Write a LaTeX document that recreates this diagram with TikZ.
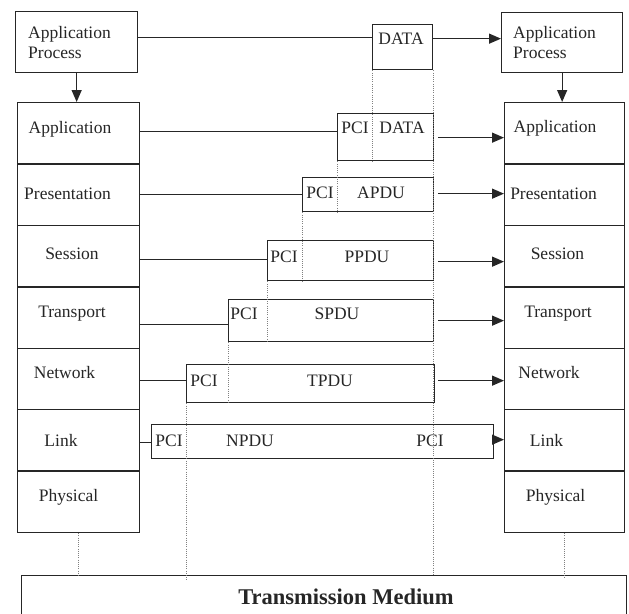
\documentclass[tikz,border=0pt]{standalone}
\usepackage{fontspec}
\setmainfont{Liberation Serif}
\usetikzlibrary{arrows.meta}

\begin{document}
\begin{tikzpicture}[x=1pt,y=-1pt,
  ink/.style={draw=black!85, line width=1.3pt},
  layer/.style={ink, rectangle, inner sep=0pt, minimum width=122pt, minimum height=61.4pt, anchor=north west},
  rlayer/.style={layer, minimum width=120pt},
  pdu/.style={ink, rectangle, inner sep=0pt, anchor=north west},
  txt/.style={inner sep=0pt, font=\fontsize{17.5}{20}\selectfont, text=black!85},
  link/.style={draw=black!85, line width=1.3pt},
  flow/.style={link, -{Triangle[length=12pt,width=10pt]}},
  guide/.style={draw=black!50, line width=0.6pt, dash pattern=on 1pt off 1.2pt},
]
\useasboundingbox (0,0) rectangle (629,613);

% application processes
\node[pdu, minimum width=122pt, minimum height=61pt] (lproc) at (15,11) {};
\node[pdu, minimum width=121pt, minimum height=60pt] (rproc) at (501,12) {};
\node[txt, align=left, anchor=west] (lprocT) at (28,43) {Application\\Process};
\node[txt, align=left, anchor=west] (rprocT) at (513,43) {Application\\Process};

% the two seven-layer stacks
\foreach \n [count=\i from 0] in {app,pres,sess,trans,net,link,phys} {
  \node[layer] (l\n) at (17,102+61.4*\i) {};
  \node[rlayer] (r\n) at (504,102+61.4*\i) {};
}

% layer names
\node[txt] (lappT)   at (70,129)   {Application};
\node[txt] (lpresT)  at (67.5,194) {Presentation};
\node[txt] (lsessT)  at (72,254)   {Session};
\node[txt] (ltransT) at (72,314)   {Transport};
\node[txt] (lnetT)   at (64.5,373) {Network};
\node[txt] (llinkT)  at (61,440)   {Link};
\node[txt] (lphysT)  at (68.5,497) {Physical};

\node[txt] (rappT)   at (555,128)   {Application};
\node[txt] (rpresT)  at (553.5,194) {Presentation};
\node[txt] (rsessT)  at (557.5,254) {Session};
\node[txt] (rtransT) at (558,314)   {Transport};
\node[txt] (rnetT)   at (549,373)   {Network};
\node[txt] (rlinkT)  at (546.5,440) {Link};
\node[txt] (rphysT)  at (555.5,497) {Physical};

% protocol data units
\node[pdu, minimum width=60pt,  minimum height=45pt] (data)    at (372,24)  {};
\node[pdu, minimum width=96pt,  minimum height=47pt] (pcidata) at (337,113) {};
\node[pdu, minimum width=131pt, minimum height=34pt] (apdu)    at (302,177) {};
\node[pdu, minimum width=166pt, minimum height=40pt] (ppdu)    at (267,240) {};
\node[pdu, minimum width=205pt, minimum height=42pt] (spdu)    at (228,299) {};
\node[pdu, minimum width=248pt, minimum height=38pt] (tpdu)    at (186,364) {};
\node[pdu, minimum width=342pt, minimum height=34pt] (npdu)    at (151,424) {};

\node[txt] (dataT)   at (401,39)  {DATA};
\node[txt] (pci1)    at (355,128) {PCI};
\node[txt] (data2T)  at (402,128) {DATA};
\node[txt] (pci2)    at (320,193) {PCI};
\node[txt] (apduT)   at (381,193) {APDU};
\node[txt] (pci3)    at (284,257) {PCI};
\node[txt] (ppduT)   at (367,257) {PPDU};
\node[txt] (pci4)    at (244,314) {PCI};
\node[txt] (spduT)   at (337,314) {SPDU};
\node[txt] (pci5)    at (204,381) {PCI};
\node[txt] (tpduT)   at (330,381) {TPDU};
\node[txt] (pci6)    at (169,441) {PCI};
\node[txt] (npduT)   at (250,441) {NPDU};
\node[txt] (pci7)    at (430,441) {PCI};

% transmission medium
\node[pdu, minimum width=605pt, minimum height=60pt] (medium) at (21,575) {};
\node[inner sep=0pt, font=\bfseries\fontsize{22.5}{26}\selectfont, text=black!85] (mediumT) at (346,597) {Transmission Medium};

% encapsulation guides
\draw[guide] (data.south west) -- (data.south west |- pcidata.south);
\draw[guide] (pcidata.south west) -- (pcidata.south west |- apdu.south);
\draw[guide] (apdu.south west) -- (apdu.south west |- ppdu.south);
\draw[guide] (ppdu.south west) -- (ppdu.south west |- spdu.south);
\draw[guide] (spdu.south west) -- (spdu.south west |- tpdu.south);
\draw[guide] (tpdu.south west) -- ([yshift=-6pt]tpdu.south west |- medium.north);
\draw[guide] (data.south east) -- (data.south east |- medium.north);
\draw[guide] (lphys.south) -- (lphys.south |- medium.north);
\draw[guide] (rphys.south) -- ([yshift=-3pt]rphys.south |- medium.north);

% process to application layer
\draw[flow] (lproc.south) -- (lproc.south |- lapp.north);
\draw[flow] (rproc.south) -- (rproc.south |- rapp.north);

% peer flows, sending side
\draw[link] ([yshift=4.5pt]lproc.east) -- ([yshift=4.5pt]lproc.east -| data.west);
\draw[link] ([yshift=1.7pt]lapp.east) -- ([yshift=1.7pt]lapp.east -| pcidata.west);
\draw[link] ([yshift=0pt]lpres.east) -- ([yshift=0pt]lpres.east -| apdu.west);
\draw[link] ([yshift=-3.5pt]lsess.east) -- ([yshift=-3.5pt]lsess.east -| ppdu.west);
\draw[link] ([yshift=-7.1pt]ltrans.east) -- ([yshift=-7.1pt]ltrans.east -| spdu.west);
\draw[link] ([yshift=-1.7pt]lnet.east) -- ([yshift=-1.7pt]lnet.east -| tpdu.west);
\draw[link] ([yshift=-2.3pt]llink.east) -- ([yshift=-2.3pt]llink.east -| npdu.west);

% peer flows, receiving side
\draw[flow] ([yshift=8.5pt]data.east) -- ([yshift=8.5pt]data.east -| rproc.west);
\draw[flow] ([xshift=4pt,yshift=-0.5pt]pcidata.east) -- ([yshift=-0.5pt]pcidata.east -| rapp.west);
\draw[flow] ([xshift=4pt,yshift=1pt]apdu.east) -- ([yshift=1pt]apdu.east -| rpres.west);
\draw[flow] ([xshift=4pt,yshift=-1pt]ppdu.east) -- ([yshift=-1pt]ppdu.east -| rsess.west);
\draw[flow] ([xshift=4pt]spdu.east) -- (spdu.east -| rtrans.west);
\draw[flow] ([xshift=3pt,yshift=3pt]tpdu.east) -- ([yshift=3pt]tpdu.east -| rnet.west);
\draw[flow] ([yshift=2pt]npdu.east) -- ([yshift=2pt]npdu.east -| rlink.west);

\end{tikzpicture}
\end{document}
